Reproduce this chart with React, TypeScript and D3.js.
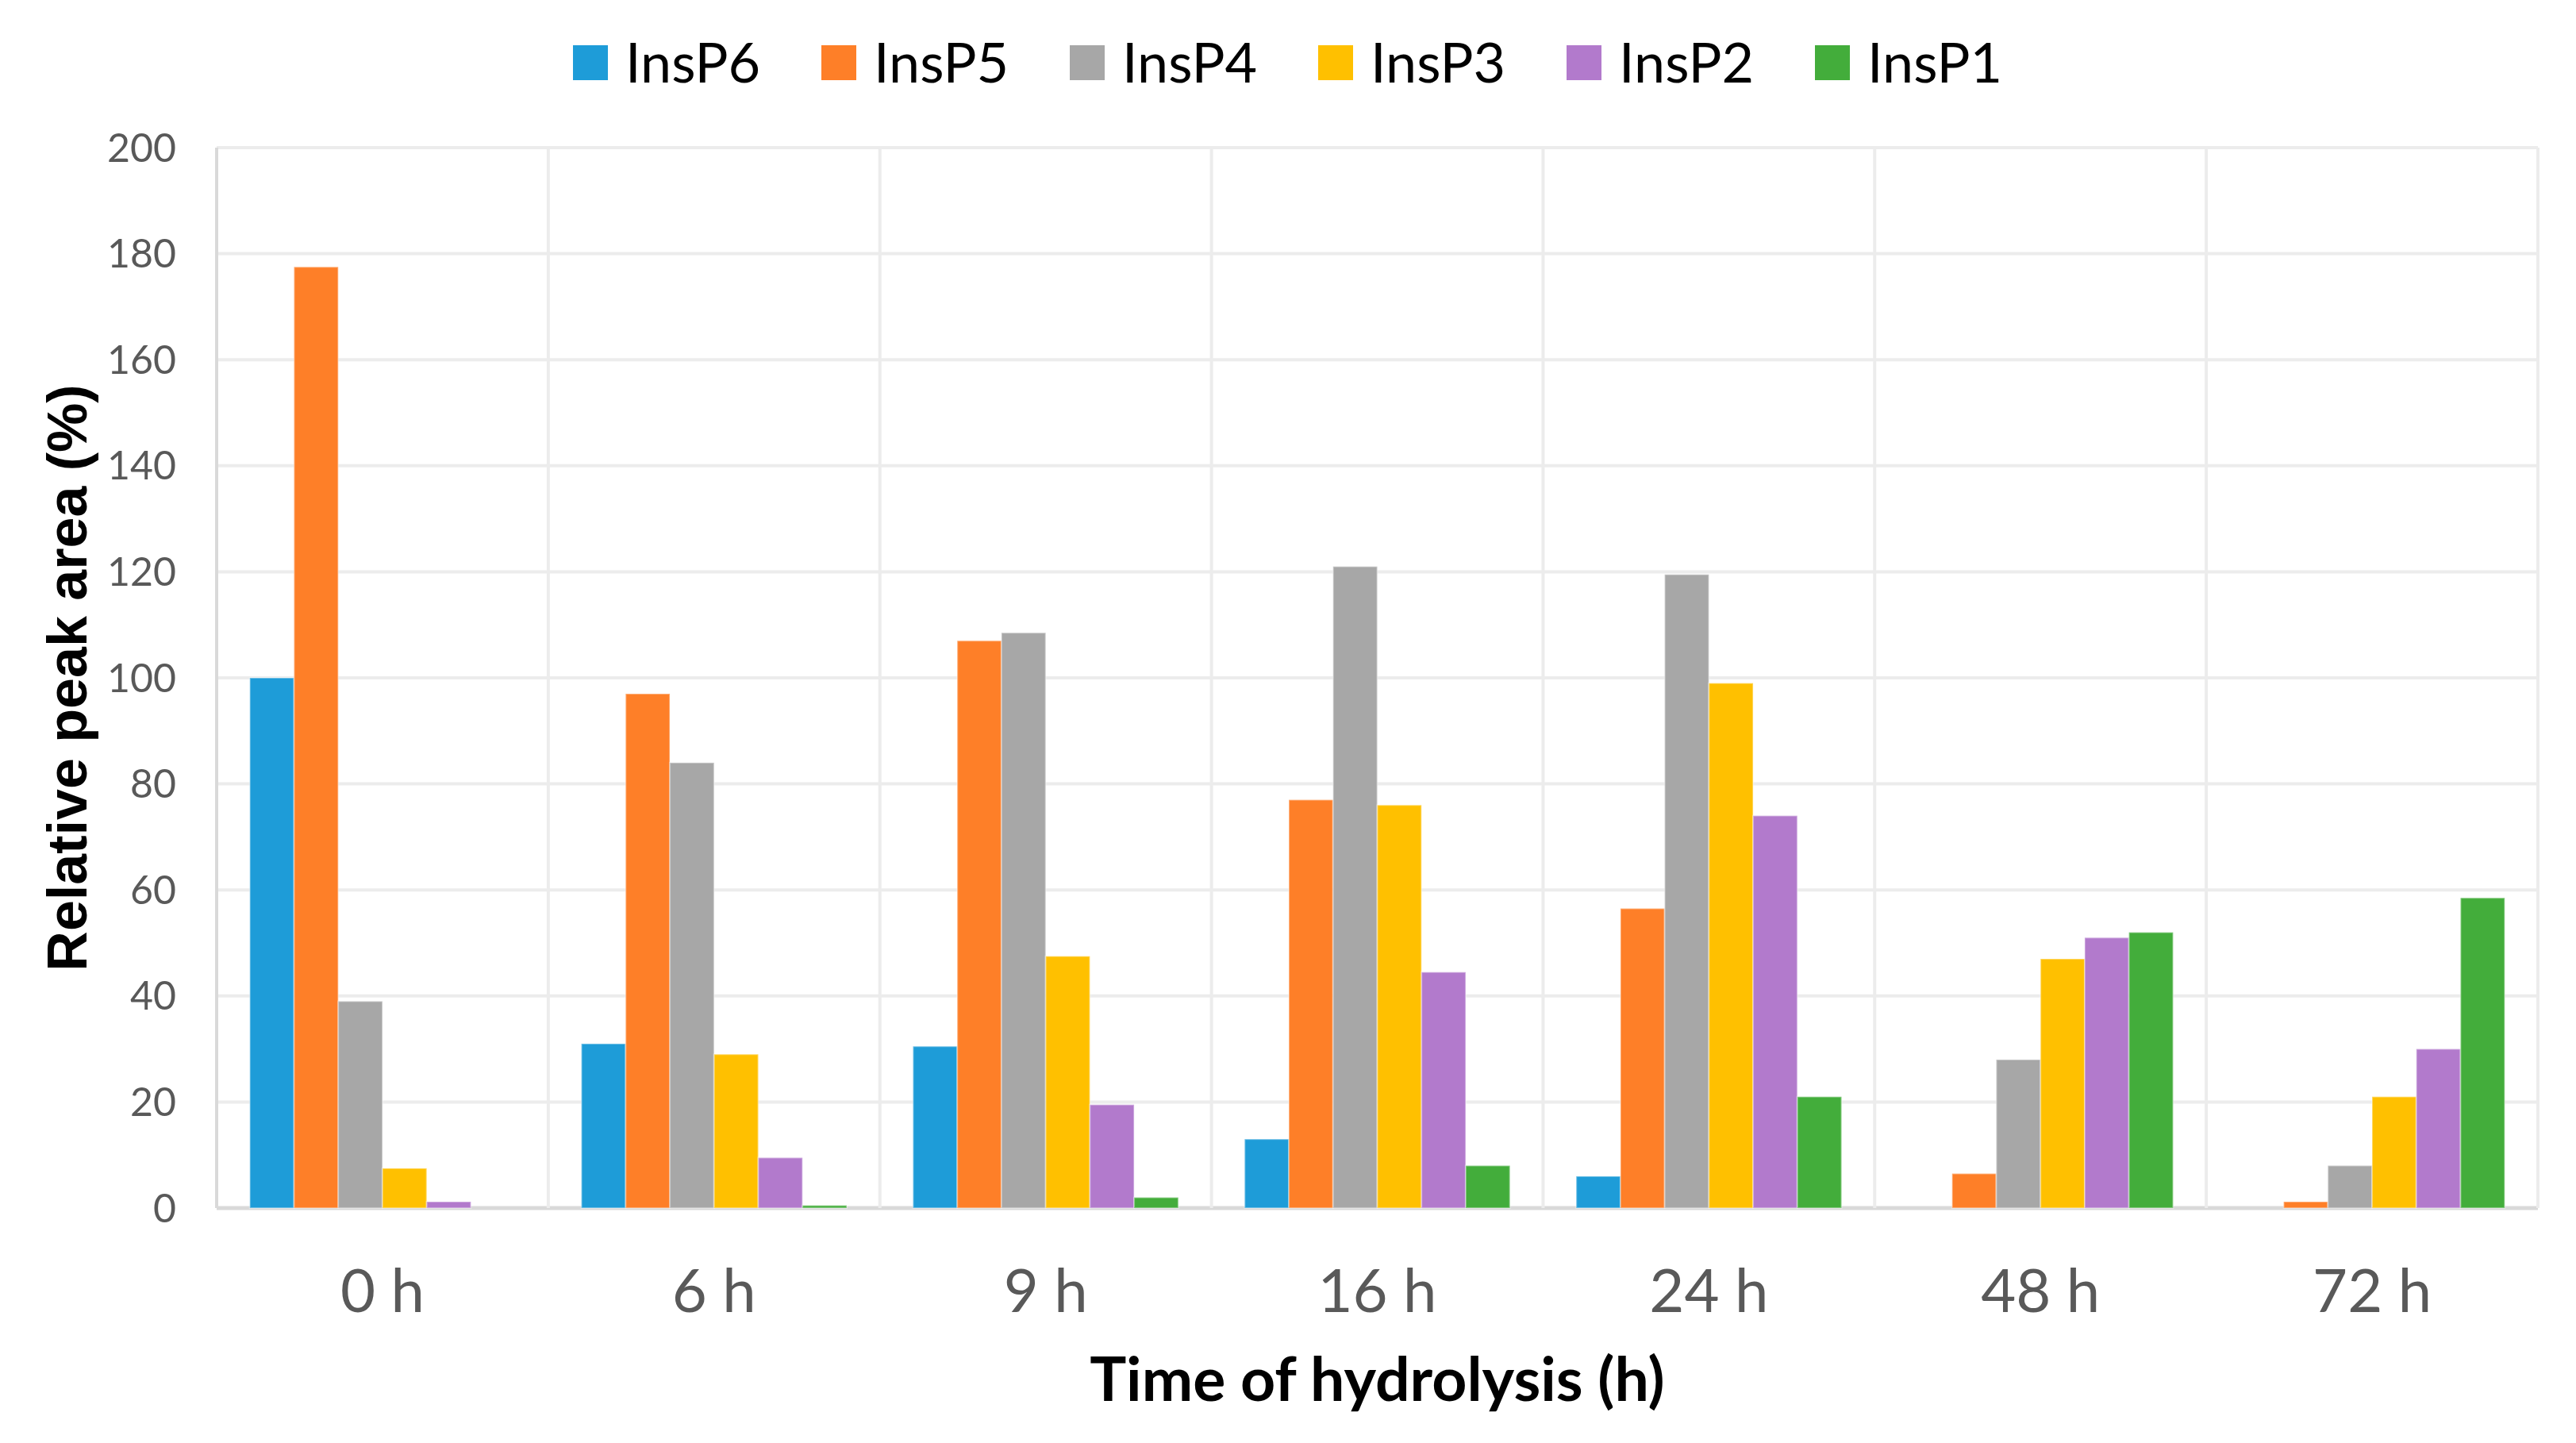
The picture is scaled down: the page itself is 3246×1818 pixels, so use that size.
import React, { useEffect } from 'react';
import * as d3 from 'd3';

const categories = ['0 h', '6 h', '9 h', '16 h', '24 h', '48 h', '72 h'];
const seriesNames = ['InsP6', 'InsP5', 'InsP4', 'InsP3', 'InsP2', 'InsP1'];
const seriesColors = ['#1e9cd8', '#fe7f28', '#a7a7a7', '#ffc000', '#b27acc', '#43ad3b'];

const insP6 = [100, 31, 30.5, 13, 6, 0, 0];
const insP5 = [177.5, 97, 107, 77, 56.5, 6.5, 1.2];
const insP4 = [39, 84, 108.5, 121, 119.5, 28, 8];
const insP3 = [7.5, 29, 47.5, 76, 99, 47, 21];
const insP2 = [1.2, 9.5, 19.5, 44.5, 74, 51, 30];
const insP1 = [0, 0.5, 2, 8, 21, 52, 58.5];

const yTicks = [0, 20, 40, 60, 80, 100, 120, 140, 160, 180, 200];

const W = 3246;
const H = 1818;
const margin = { top: 186, right: 48, bottom: 296, left: 273 };

const App: React.FC = () => {
  useEffect(() => {
    document.body.style.margin = '0';
  }, []);

  const values = [insP6, insP5, insP4, insP3, insP2, insP1];

  const x0 = d3.scaleBand()
    .domain(categories)
    .range([margin.left, W - margin.right])
    .padding(0);

  const bw = x0.bandwidth();
  const x1 = d3.scaleBand()
    .domain(seriesNames)
    .range([bw * 0.1, bw * 0.9])
    .padding(0);

  const y = d3.scaleLinear()
    .domain([0, 200])
    .range([H - margin.bottom, margin.top]);

  const plotLeft = margin.left;
  const plotRight = W - margin.right;
  const plotTop = y(200);
  const plotBottom = y(0);

  const legendX = d3.scaleBand()
    .domain(seriesNames)
    .range([722, 722 + 313 * 6]);

  return (
    <svg width={W} height={H} style={{ display: 'block', background: '#fff' }}>
      {/* horizontal gridlines */}
      {yTicks.map(t => (
        <line key={'h' + t} x1={plotLeft} x2={plotRight} y1={y(t)} y2={y(t)}
          stroke={t === 0 ? '#d9d9d9' : '#ececec'} strokeWidth={t === 0 ? 5 : 4} />
      ))}
      {/* vertical gridlines at category boundaries */}
      {categories.map((c, i) => (
        <line key={'v' + c} x1={x0(c) || 0} x2={x0(c) || 0}
          y1={plotTop} y2={plotBottom}
          stroke={i === 0 ? '#d9d9d9' : '#ececec'} strokeWidth={4} />
      ))}
      <line x1={plotRight} x2={plotRight} y1={plotTop} y2={plotBottom} stroke="#ececec" strokeWidth={4} />

      {/* bars */}
      {seriesNames.map((s, si) => (
        <g key={s} fill={seriesColors[si]}>
          {categories.map((c, ci) => {
            const v = values[si][ci];
            if (v <= 0) return null;
            return (
              <rect key={c}
                x={(x0(c) || 0) + (x1(s) || 0)}
                y={y(v)}
                width={x1.bandwidth()}
                height={plotBottom - y(v)}
                stroke="#ffffff" strokeOpacity={0.35} strokeWidth={2} />
            );
          })}
        </g>
      ))}

      {/* y tick labels */}
      {yTicks.map(t => (
        <text key={'yl' + t} x={222} y={y(t)} dy="0.35em" textAnchor="end"
          fontFamily="Lato, 'Open Sans', sans-serif" fontSize={50} fill="#595959">{t}</text>
      ))}

      {/* x tick labels */}
      {categories.map(c => (
        <text key={'xl' + c} x={(x0(c) || 0) + bw / 2} y={1626} dy="0.35em" textAnchor="middle"
          fontFamily="Lato, 'Open Sans', sans-serif" fontSize={76} fill="#595959">{c}</text>
      ))}

      {/* axis titles */}
      <text x={(plotLeft + plotRight) / 2} y={1738} dy="0.35em" textAnchor="middle"
        fontFamily="Lato, 'Open Sans', sans-serif" fontWeight="bold" fontSize={77} fill="#000">
        Time of hydrolysis (h)
      </text>
      <text transform={`translate(84, ${(plotTop + plotBottom) / 2}) rotate(-90)`} dy="0.35em" textAnchor="middle"
        fontFamily="'Liberation Sans', Arial, sans-serif" fontWeight="bold" fontSize={70} fill="#000">
        Relative peak area (%)
      </text>

      {/* legend */}
      {seriesNames.map((s, si) => (
        <g key={'lg' + s} transform={`translate(${legendX(s)}, 79)`}>
          <rect x={0} y={-22} width={44} height={44} fill={seriesColors[si]} />
          <text x={66} y={0} dy="0.35em" fontFamily="Lato, 'Open Sans', sans-serif" fontSize={70} fill="#000">{s}</text>
        </g>
      ))}
    </svg>
  );
};

export default App;
